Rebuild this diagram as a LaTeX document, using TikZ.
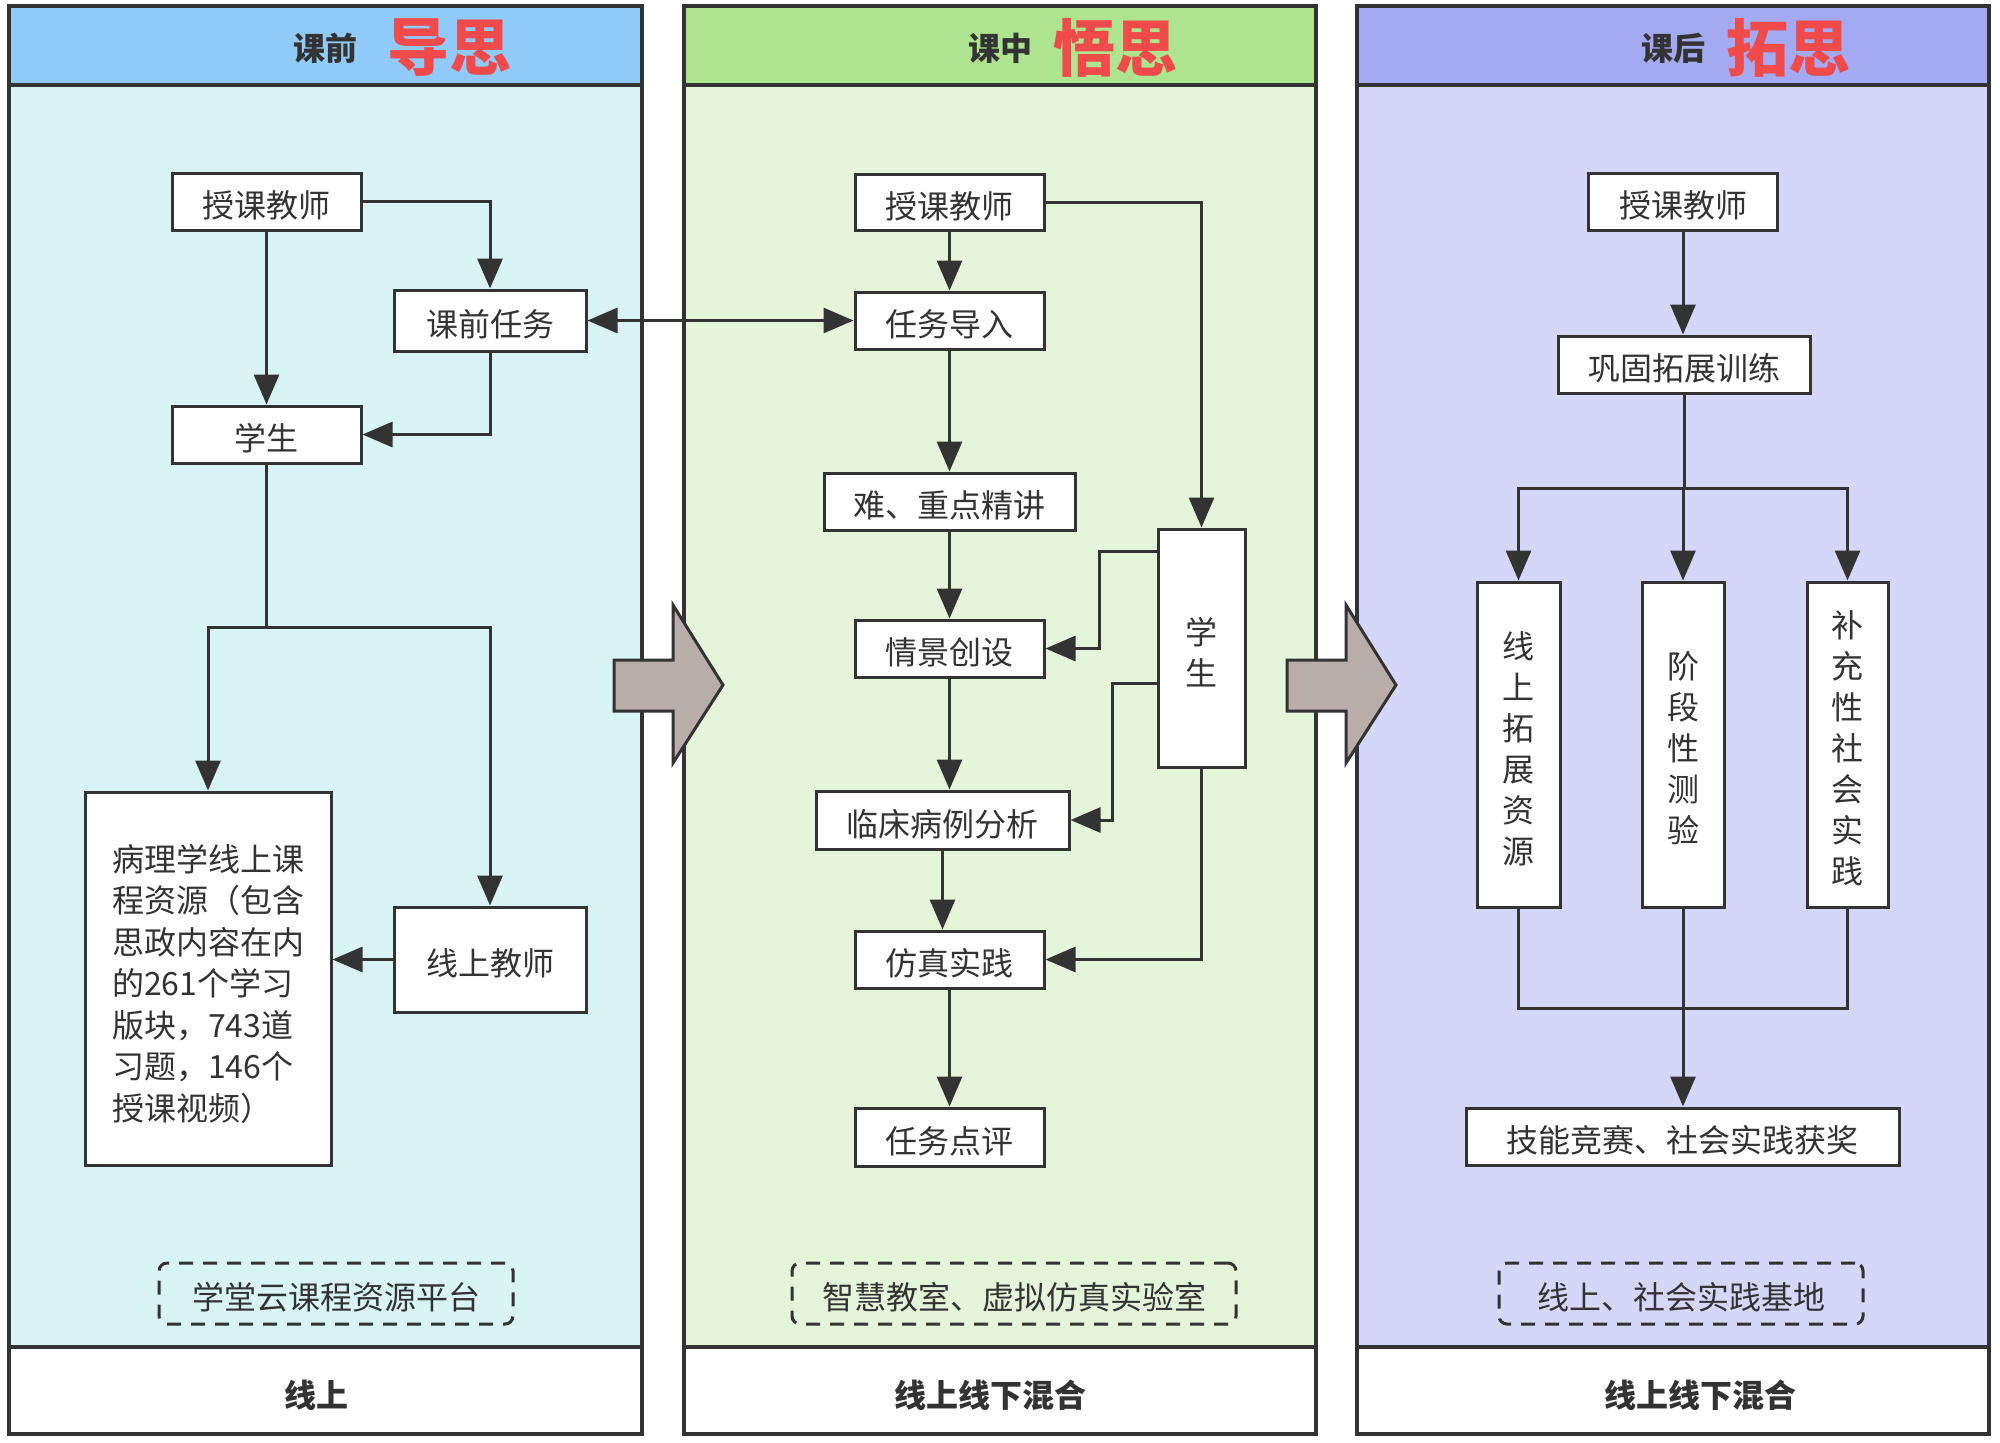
\documentclass[tikz,border=0pt]{standalone}
\usepackage{fontspec}
\setmainfont{Noto Sans CJK SC}
\usetikzlibrary{arrows.meta,calc}
\definecolor{linec}{HTML}{333333}
\definecolor{textc}{HTML}{333333}
\definecolor{redc}{HTML}{F04A4A}
\definecolor{headA}{HTML}{90CAF9}
\definecolor{bodyA}{HTML}{D8F4F4}
\definecolor{headB}{HTML}{AEE38F}
\definecolor{bodyB}{HTML}{E5F5DA}
\definecolor{headC}{HTML}{A4AAF2}
\definecolor{bodyC}{HTML}{D4D7F8}
\definecolor{arrc}{HTML}{B9ADA9}
\newcommand{\mypanel}[4]{%
  \fill[#4] (#1,85) rectangle (#2,1347);
  \fill[#3] (#1,6) rectangle (#2,85);
  \fill[white] (#1,1347) rectangle (#2,1434);
  \draw[panelline] (#1,6) rectangle (#2,1434);
  \draw[panelline] (#1,85) -- (#2,85);
  \draw[panelline] (#1,1347) -- (#2,1347);
}
\tikzset{
  panelline/.style={draw=linec, line width=1.75pt},
  boxn/.style={draw=linec, fill=white, line width=1.5pt, inner sep=0pt,
    font=\fontsize{16pt}{20.5pt}\selectfont, text=textc, align=center},
  txt/.style={inner sep=0pt, font=\fontsize{16pt}{20.5pt}\selectfont, text=textc, align=center},
  oneline/.style={text height=16.6pt, text depth=0.6pt},
  arr/.style={draw=linec, line width=1.5pt, -{Triangle[length=15pt,width=12.5pt]}},
  biarr/.style={draw=linec, line width=1.5pt, {Triangle[length=15pt,width=12.5pt]}-{Triangle[length=15pt,width=12.5pt]}},
  ln/.style={draw=linec, line width=1.5pt},
  dbox/.style={draw=linec, line width=1.5pt, dash pattern=on 7pt off 5pt,
    rounded corners=4pt, inner sep=0pt, font=\fontsize{16pt}{20.5pt}\selectfont, text=textc},
  hlab/.style={font=\bfseries\fontsize{16pt}{16pt}\selectfont, text=textc, inner sep=0pt},
  hred/.style={font=\bfseries\fontsize{31pt}{31pt}\selectfont, text=redc, inner sep=0pt},
  bigarr/.style={draw=linec, fill=arrc, line width=1.5pt, line join=miter}
}
\begin{document}
\begin{tikzpicture}[x=0.5pt,y=-0.5pt]
\useasboundingbox (0,0) rectangle (2000,1442);
\fill[white] (0,0) rectangle (2000,1442);
% panels
\mypanel{9}{642}{headA}{bodyA}
\mypanel{684}{1316}{headB}{bodyB}
\mypanel{1357}{1989}{headC}{bodyC}
% headers
\node[hlab] (H1) at (325.5,48) {课前};
\node[hred, anchor=west] (H1r) at ([xshift=14.5pt]H1.east) {导思};
\node[hlab] (H2) at (1000,48) {课中};
\node[hred, anchor=west] (H2r) at ([xshift=10.5pt]H2.east) {悟思};
\node[hlab] (H3) at (1673,48) {课后};
\node[hred, anchor=west] (H3r) at ([xshift=10.5pt]H3.east) {拓思};
% footers
\node[hlab] (F1) at (316,1395) {线上};
\node[hlab] (F2) at (990,1395) {线上线下混合};
\node[hlab] (F3) at (1700,1395) {线上线下混合};
% left panel
\node[boxn, oneline, minimum width=94.5pt, minimum height=28.5pt] (L1) at (266.5,201.5) {授课教师};
\node[boxn, oneline, minimum width=96pt, minimum height=30.5pt] (L2) at (490,320.5) {课前任务};
\node[boxn, oneline, minimum width=94.5pt, minimum height=28.5pt] (L3) at (266.5,434.5) {学生};
\node[boxn, minimum width=123pt, minimum height=186.5pt] (L4) at (208,978.5) {};
\node[txt, align=left, font=\fontsize{16pt}{20.75pt}\selectfont] (L4t) at ($(L4)+(0,5)$)
  {病理学线上课\\程资源（包含\\思政内容在内\\的261个学习\\版块，743道\\习题，146个\\授课视频）};
\node[boxn, oneline, minimum width=96pt, minimum height=52.5pt] (L5) at (490,959.5) {线上教师};
\node[dbox, oneline, minimum width=177pt, minimum height=30.5pt] (LD) at (336,1293.5) {学堂云课程资源平台};
\coordinate (Ls) at (266.5,627);
\draw[arr] (L1.east) -| (L2.north);
\draw[arr] (L1.south) -- (L3.north);
\draw[arr] (L2.south) |- (L3.east);
\draw[ln] (L3.south) -- (Ls);
\draw[arr] (Ls) -| (L4.north);
\draw[arr] (Ls) -| (L5.north);
\draw[arr] (L5.west) -- (L5.west -| L4.east);
% middle panel
\node[boxn, oneline, minimum width=94.5pt, minimum height=28pt] (M1) at (949.5,202) {授课教师};
\node[boxn, oneline, minimum width=94.5pt, minimum height=28.5pt] (M2) at (949.5,320.5) {任务导入};
\node[boxn, oneline, minimum width=125.5pt, minimum height=28.5pt] (M3) at (949.5,501.5) {难、重点精讲};
\node[boxn, oneline, minimum width=94.5pt, minimum height=28.5pt] (M4) at (949.5,648.5) {情景创设};
\node[boxn, oneline, minimum width=126.5pt, minimum height=29pt] (M5) at (942.5,820) {临床病例分析};
\node[boxn, oneline, minimum width=94.5pt, minimum height=28.5pt] (M6) at (949.5,959.5) {仿真实践};
\node[boxn, oneline, minimum width=94.5pt, minimum height=29pt] (M7) at (949.5,1137) {任务点评};
\node[boxn, minimum width=43.5pt, minimum height=119pt] (MS) at (1201.5,648) {};
\node[txt] (MSt) at ($(MS)+(0,4)$) {学\\生};
\node[dbox, oneline, minimum width=222pt, minimum height=30.5pt] (MD) at (1014,1293.5) {智慧教室、虚拟仿真实验室};
\draw[biarr] (L2.east) -- (M2.west);
\draw[arr] (M1.east) -| (MS.north);
\draw[arr] (M1.south) -- (M2.north);
\draw[arr] (M2.south) -- (M3.north);
\draw[arr] (M3.south) -- (M4.north);
\draw[arr] ($(MS.north west)+(0,24)$) -- ++(-57,0) |- (M4.east);
\draw[arr] ($(MS.north west)+(0,156)$) -- ++(-44,0) |- (M5.east);
\draw[arr] (M4.south) -- (M4.south |- M5.north);
\draw[arr] (M5.south) -- (M5.south |- M6.north);
\draw[arr] (MS.south) |- (M6.east);
\draw[arr] (M6.south) -- (M7.north);
% right panel
\node[boxn, oneline, minimum width=94.5pt, minimum height=28.5pt] (R1) at (1683,201.5) {授课教师};
\node[boxn, oneline, minimum width=126pt, minimum height=28.5pt] (R2) at (1684,364.5) {巩固拓展训练};
\node[boxn, minimum width=41.5pt, minimum height=162.5pt] (R3) at (1518.5,744.5) {};
\node[boxn, minimum width=41pt, minimum height=162.5pt] (R4) at (1683,744.5) {};
\node[boxn, minimum width=40.5pt, minimum height=162.5pt] (R5) at (1847.5,744.5) {};
\node[txt] (R3t) at ($(R3)+(0,4)$) {线\\上\\拓\\展\\资\\源};
\node[txt] (R4t) at ($(R4)+(0,4)$) {阶\\段\\性\\测\\验};
\node[txt] (R5t) at ($(R5)+(0,4)$) {补\\充\\性\\社\\会\\实\\践};
\node[boxn, oneline, minimum width=216.5pt, minimum height=28.5pt] (R6) at (1682.5,1136.5) {技能竞赛、社会实践获奖};
\node[dbox, oneline, minimum width=182pt, minimum height=30.5pt] (RD) at (1681,1293.5) {线上、社会实践基地};
\coordinate (Rs) at (1684,488);
\coordinate (Rj) at (1683,1008);
\draw[arr] (R1.south) -- (R1.south |- R2.north);
\draw[ln] (R2.south) -- (Rs);
\draw[arr] (Rs) -| (R3.north);
\draw[arr] (Rs) -| (R5.north);
\draw[arr] (Rs -| R4.north) -- (R4.north);
\draw[ln] (R3.south) |- (Rj) -| (R5.south);
\draw[arr] (R4.south) -- (R4.south |- R6.north);
% big arrows
\draw[bigarr] (614,660) -- (673,660) -- (673,605) -- (723,685) -- (673,763) -- (673,711) -- (614,711) -- cycle;
\draw[bigarr] (1287,660) -- (1346,660) -- (1346,605) -- (1396,685) -- (1346,763) -- (1346,711) -- (1287,711) -- cycle;
\end{tikzpicture}
\end{document}
